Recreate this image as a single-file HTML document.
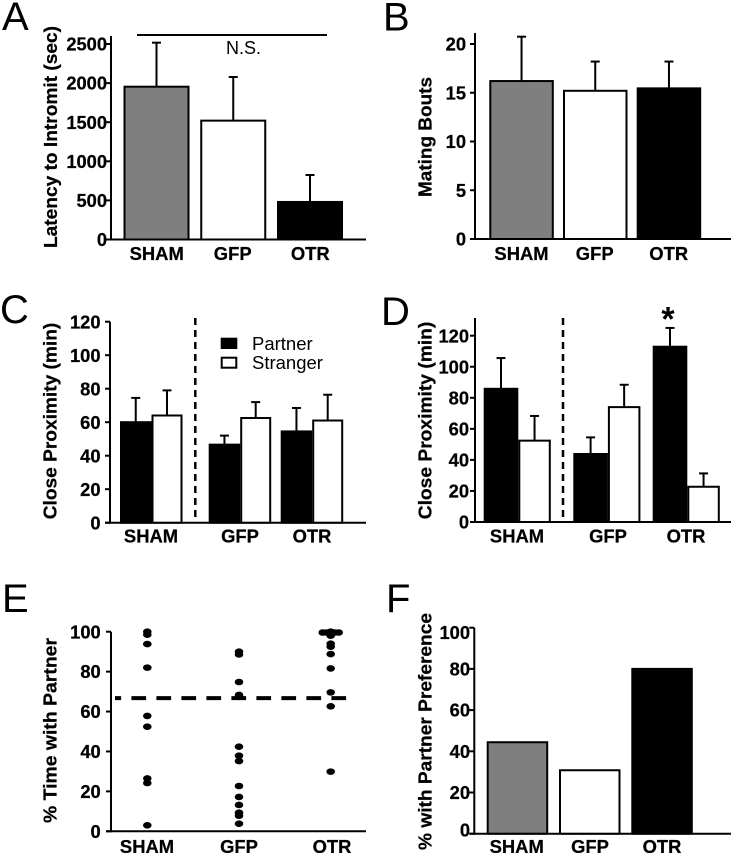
<!DOCTYPE html>
<html lang="en">
<head>
<meta charset="utf-8">
<title>Behavioural results panels A-F</title>
<style>
html,body{margin:0;padding:0;background:#fff;}
svg{display:block;}
text{font-family:"Liberation Sans",Arial,sans-serif;fill:#000;}
.letter{font-size:40px;}
.ytitle{font-size:18px;font-weight:bold;stroke:#000;stroke-width:.25px;}
.tick{font-size:18.3px;font-weight:bold;text-anchor:end;stroke:#000;stroke-width:.25px;}
.cat{font-size:18.4px;font-weight:bold;text-anchor:middle;stroke:#000;stroke-width:.25px;}
.note{font-size:18px;}
</style>
</head>
<body>
<svg id="fig" width="731" height="853" viewBox="0 0 731 853" xmlns="http://www.w3.org/2000/svg">
  <text class="letter" x="2" y="30">A</text>
  <text class="letter" x="383" y="30.5">B</text>
  <text class="letter" x="0" y="323">C</text>
  <text class="letter" x="381" y="325">D</text>
  <text class="letter" x="2" y="612">E</text>
  <text class="letter" x="386" y="612">F</text>

  <text class="ytitle" transform="translate(57,248) rotate(-90)" textLength="222" lengthAdjust="spacingAndGlyphs">Latency to Intromit (sec)</text>
  <text class="ytitle" transform="translate(431.7,197) rotate(-90)" textLength="120" lengthAdjust="spacingAndGlyphs">Mating Bouts</text>
  <text class="ytitle" transform="translate(56.7,519.3) rotate(-90)" textLength="196.6" lengthAdjust="spacingAndGlyphs">Close Proximity (min)</text>
  <text class="ytitle" transform="translate(431.7,519.3) rotate(-90)" textLength="197.6" lengthAdjust="spacingAndGlyphs">Close Proximity (min)</text>
  <text class="ytitle" transform="translate(56.7,823) rotate(-90)" textLength="185" lengthAdjust="spacingAndGlyphs">% Time with Partner</text>
  <text class="ytitle" transform="translate(431.7,850) rotate(-90)" textLength="237" lengthAdjust="spacingAndGlyphs">% with Partner Preference</text>

  <line x1="137" y1="35" x2="327" y2="35" stroke="#000" stroke-width="2"/>
  <text class="note" x="243.5" y="54" text-anchor="middle">N.S.</text>

  <line x1="195.3" y1="318" x2="195.3" y2="522" stroke="#000" stroke-width="2.5" stroke-dasharray="7 5"/>
  <line x1="563" y1="318" x2="563" y2="522" stroke="#000" stroke-width="2.5" stroke-dasharray="7 5"/>

  <rect x="220.7" y="337.7" width="16.6" height="11.3" fill="#000"/>
  <text x="252" y="350" style="font-size:18.5px">Partner</text>
  <rect x="221.7" y="357.7" width="14.6" height="10" fill="#fff" stroke="#000" stroke-width="2"/>
  <text x="252" y="369" style="font-size:18.5px">Stranger</text>

  <text x="668" y="330.5" text-anchor="middle" style="font-size:34px;font-weight:bold">*</text>
</svg>
<script>
/* ---------- data ---------- */
const categories = ['SHAM', 'GFP', 'OTR'];

const latencyTicks = [0, 500, 1000, 1500, 2000, 2500];
const latencyMeans = [1954, 1520, 480];
const latencyErrors = [563, 558, 345];

const boutTicks = [0, 5, 10, 15, 20];
const boutMeans = [16.2, 15.2, 15.45];
const boutErrors = [4.55, 3.0, 2.75];

const proximityCTicks = [0, 20, 40, 60, 80, 100, 120];
const proximityCPartner = [60, 46.6, 54.5];
const proximityCPartnerErrors = [14.5, 5.4, 14];
const proximityCStranger = [64, 62.5, 61];
const proximityCStrangerErrors = [15, 9.5, 15.4];

const proximityDTicks = [0, 20, 40, 60, 80, 100, 120];
const proximityDPartner = [85.8, 43.8, 112.9];
const proximityDPartnerErrors = [19.8, 10.7, 12.1];
const proximityDStranger = [52.4, 74, 22.7];
const proximityDStrangerErrors = [15.9, 14.4, 8.6];

const timeTicks = [0, 20, 40, 60, 80, 100];
const timeSham = [100, 98.5, 93.8, 82, 57.8, 52.4, 26.5, 24.2, 3];
const timeGfp = [90, 88.6, 74.8, 68.3, 67.4, 42.4, 37.9, 35.2, 22.7, 17.2, 13.2, 9.3, 7.8, 3.8];
const timeOtr = [100, 99.6, 99.6, 99.6, 99.6, 98, 94, 92.5, 88.8, 81.6, 69.6, 62.6, 29.9];
const timeOtrJitter = [0, -0.087, -0.044, 0.044, 0.087, 0, 0, 0, 0, 0, 0, 0, 0];
const criterionLine = [66.7];

const preferenceTicks = [0, 20, 40, 60, 80, 100];
const preferenceValues = [44.4, 30.8, 80];

/* ---------- drawing ---------- */
const SVGNS = 'http://www.w3.org/2000/svg';
const fig = document.getElementById('fig');
const fills = ['#7f7f7f', '#ffffff', '#000000'];

function make(tag, parent, attrs) {
  const el = document.createElementNS(SVGNS, tag);
  for (const k in attrs) el.setAttribute(k, attrs[k]);
  parent.appendChild(el);
  return el;
}

function drawAxes(g, p, ticks) {
  const yLine = make('line', g, {x1: p.axisX, x2: p.axisX, y1: p.axisTop, y2: p.y0 + 1, stroke: '#000', 'stroke-width': 2});
  
  
  const xLine = make('line', g, {x1: p.axisX - 5, x2: p.xEnd, y1: p.y0, y2: p.y0, stroke: '#000', 'stroke-width': 2});
  
  
  ticks.forEach(function (t) {
    const y = p.y(t);
    const mark = make('line', g, {x1: p.axisX - 5, x2: p.axisX, y1: y, y2: y, stroke: '#000', 'stroke-width': 2});
    
    
    const shift = p.labelShift ? p.labelShift(t) : 0;
    const label = make('text', g, {class: 'tick', x: p.labelRight, y: y + 6.6 + shift});
    label.textContent = String(t);
    
    
  });
}

function drawCategoryLabels(g, p) {
  categories.forEach(function (c, i) {
    const label = make('text', g, {class: 'cat', x: p.catX[i], y: p.catY});
    label.textContent = c;
    
    
  });
}

function drawBar(g, p, left, width, value, err, fill) {
  const top = p.y(value);
  if (err !== null) {
    const cx = left + width / 2;
    const errTop = p.y(value + err);
    const stem = make('line', g, {x1: cx, x2: cx, y1: top, y2: errTop, stroke: '#000', 'stroke-width': 2});
    
    
    const cap = make('line', g, {x1: cx - 4.5, x2: cx + 4.5, y1: errTop, y2: errTop, stroke: '#000', 'stroke-width': 2});
    
    
  }
  const bar = make('rect', g, {x: left + 1, y: top, width: width - 2, height: Math.max(0, p.y0 - top), fill: fill, stroke: '#000', 'stroke-width': 2});
  
  
}

function panelGroup() {
  const g = make('g', fig, {});
  
  
  return g;
}

function scale(y0, pxPerUnit) {
  return function (v) { return y0 - v * pxPerUnit; };
}

/* Panel A */
(function () {
  const p = {axisX: 111, axisTop: 36, y0: 239.5, xEnd: 366, labelRight: 107, catY: 260, catX: [156.7, 232.7, 310.3], y: scale(239.5, 195.5 / 2500)};
  const g = panelGroup();
  drawAxes(g, p, latencyTicks);
  latencyMeans.forEach(function (m, i) {
    drawBar(g, p, 123.5 + i * 76.75, 66, m, latencyErrors[i], fills[i]);
  });
  drawCategoryLabels(g, p);
})();

/* Panel B */
(function () {
  const p = {axisX: 475, axisTop: 33, y0: 239, xEnd: 731, labelRight: 466, catY: 260, catX: [521.5, 594.7, 668.7], y: scale(239, 9.75)};
  const g = panelGroup();
  drawAxes(g, p, boutTicks);
  boutMeans.forEach(function (m, i) {
    drawBar(g, p, 489.3 + i * 73.7, 64.5, m, boutErrors[i], fills[i]);
  });
  drawCategoryLabels(g, p);
})();

/* Panel C */
(function () {
  const p = {axisX: 110, axisTop: 321.7, y0: 522.7, xEnd: 366, labelRight: 100.5, catY: 542.3, catX: [151, 240, 312], y: scale(522.7, 1.675)};
  const groupLeft = [120, 208.7, 280.7];
  const g = panelGroup();
  drawAxes(g, p, proximityCTicks);
  proximityCPartner.forEach(function (m, i) {
    drawBar(g, p, groupLeft[i] + 31.5, 31, proximityCStranger[i], proximityCStrangerErrors[i], '#ffffff');
    drawBar(g, p, groupLeft[i], 31.5, m, proximityCPartnerErrors[i], '#000000');
  });
  drawCategoryLabels(g, p);
})();

/* Panel D */
(function () {
  const p = {axisX: 475, axisTop: 318, y0: 522, xEnd: 731, labelRight: 469, catY: 542.3, catX: [517, 608, 686], y: scale(522, 1.5525)};
  const groupLeft = [483.7, 573.3, 652.7];
  const g = panelGroup();
  drawAxes(g, p, proximityDTicks);
  proximityDPartner.forEach(function (m, i) {
    drawBar(g, p, groupLeft[i] + 34.6, 32.5, proximityDStranger[i], proximityDStrangerErrors[i], '#ffffff');
    drawBar(g, p, groupLeft[i], 34.6, m, proximityDPartnerErrors[i], '#000000');
  });
  drawCategoryLabels(g, p);
})();

/* Panel E */
(function () {
  const p = {axisX: 111, axisTop: 631.7, y0: 831.3, xEnd: 366, labelRight: 100.7, catY: 853, catX: [147, 239, 332], y: scale(831.3, 1.996)};
  const x = function (c) { return 147.3 + c * 91.7; };
  const g = panelGroup();
  drawAxes(g, p, timeTicks);
  [timeSham, timeGfp, timeOtr].forEach(function (series, c) {
    series.forEach(function (v, i) {
      const jitter = c === 2 ? timeOtrJitter[i] : 0;
      const dot = make('ellipse', g, {cx: x(c + jitter), cy: p.y(v), rx: 4.3, ry: 3.3, fill: '#000'});
      
      
    });
  });
  const crit = make('line', g, {x1: 115, x2: 348.5, y1: p.y(criterionLine[0]), y2: p.y(criterionLine[0]), stroke: '#000', 'stroke-width': 4, 'stroke-dasharray': '14.7 10.3', 'stroke-dashoffset': '8.6'});
  
  
  drawCategoryLabels(g, p);
})();

/* Panel F */
(function () {
  const p = {
    axisX: 474.3, axisTop: 627.7, y0: 833.7, xEnd: 731, labelRight: 470, catY: 853,
    catX: [516.7, 590, 662], y: scale(833.7, 2.06),
    labelShift: function (t) { return t === 100 ? 4.5 : (t === 0 ? -4 : 0); }
  };
  const g = panelGroup();
  drawAxes(g, p, preferenceTicks);
  preferenceValues.forEach(function (m, i) {
    drawBar(g, p, 486.7 + i * 72.3, 61.5, m, null, fills[i]);
  });
  drawCategoryLabels(g, p);
})();
</script>
</body>
</html>
